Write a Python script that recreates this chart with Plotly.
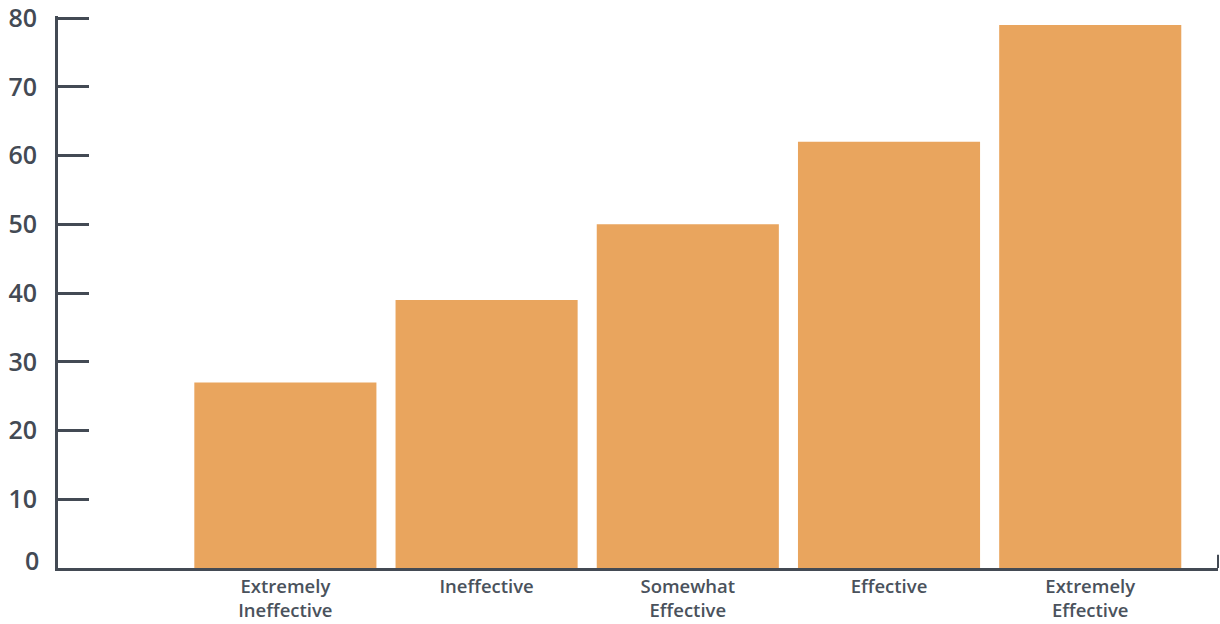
import plotly.graph_objects as go

categories = ["Extremely<br>Ineffective", "Ineffective", "Somewhat<br>Effective", "Effective", "Extremely<br>Effective"]
values = [27, 39, 50, 62, 79]
y_ticks = [10, 20, 30, 40, 50, 60, 70, 80]
y_zero = 0

axis_color = "#434a54"
label_color = "#4a525c"
bar_color = "#e9a55e"

fig = go.Figure(go.Bar(x=list(range(len(categories))), y=values,
                       marker_color=bar_color, marker_line_width=0, width=0.905))

tick_font = dict(family="Open Sans", size=25, color=axis_color, weight=600)

fig.update_layout(
    width=1220, height=624,
    margin=dict(l=58, r=2, t=16, b=56),
    plot_bgcolor="white", paper_bgcolor="white",
    showlegend=False,
    font=dict(family="Open Sans", color=axis_color),
    xaxis=dict(
        range=[-1.13, 4.635], automargin=False,
        tickvals=list(range(len(categories))), ticktext=categories,
        showline=True, linecolor=axis_color, linewidth=3,
        showgrid=False, zeroline=False, ticks="",
        tickfont=dict(family="Open Sans", size=18.5, color=label_color, weight=600),
    ),
    yaxis=dict(
        range=[0, 80.3], automargin=False,
        tickvals=y_ticks,
        showline=True, linecolor=axis_color, linewidth=3,
        showgrid=False, zeroline=False,
        ticks="inside", ticklen=31, tickwidth=3, tickcolor=axis_color,
        tickfont=tick_font,
        ticklabelstandoff=13, ticklabeloverflow="allow",
    ),
    annotations=[dict(text=str(y_zero), x=0, xref="paper", y=y_zero, yref="y",
                      xanchor="right", yanchor="middle", xshift=-19, yshift=8,
                      showarrow=False, font=tick_font, borderpad=0, borderwidth=0)],
    shapes=[dict(type="line", xref="paper", yref="paper", x0=1, x1=1, y0=0, y1=0.024,
                 line=dict(color=axis_color, width=2))],
)

fig.write_html("out.html")
